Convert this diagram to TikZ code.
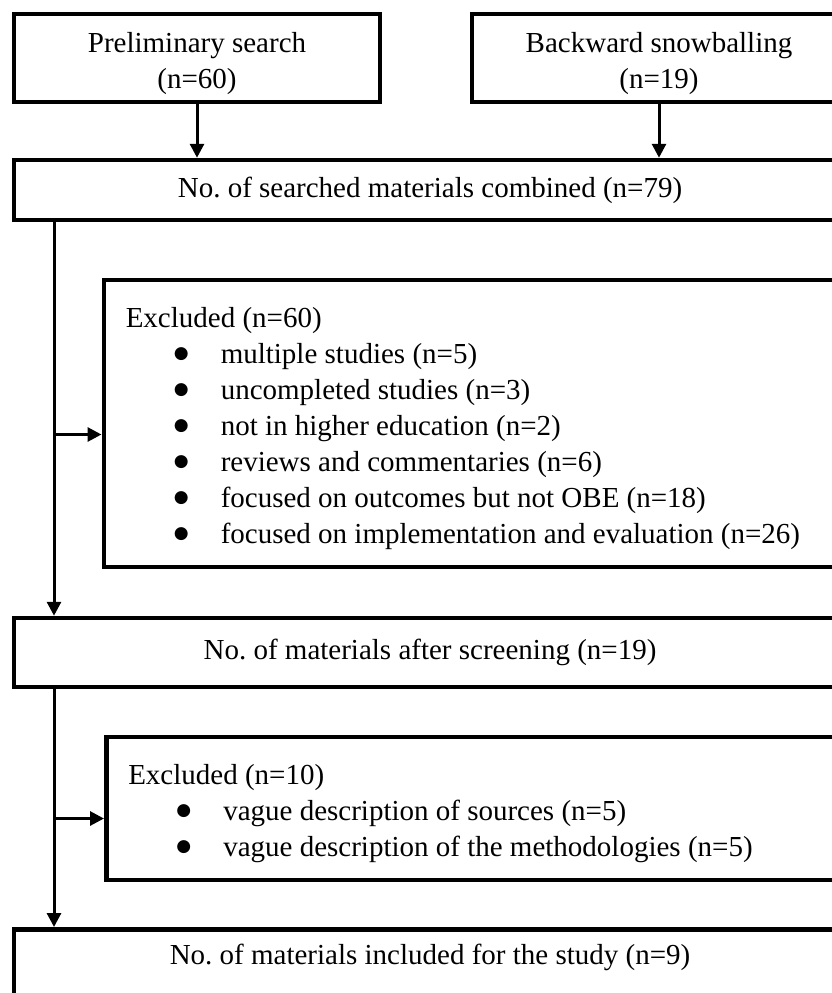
\documentclass[tikz,border=0pt]{standalone}
\usepackage{fontspec}
\setmainfont{Liberation Serif}
\newfontfamily\bulletfont{DejaVu Sans}
\usetikzlibrary{positioning,calc,arrows.meta}
\newcommand{\natspace}{\spaceskip=0pt\xspaceskip=0pt\relax}
\newcommand{\exclitem}[1]{\hspace*{48pt}\makebox[47pt][l]{\raisebox{5pt}{\bulletfont\fontsize{17}{17}\selectfont ●}}#1}

\begin{document}
\begin{tikzpicture}[x=1pt, y=1pt,
    font=\fontsize{29}{36}\selectfont,
    flowbox/.style={draw, line width=4.5pt, inner sep=0pt, align=center},
    listbox/.style={draw, line width=4.5pt, inner xsep=22pt, inner ysep=0pt,
                    align=left, text width=714pt, anchor=west},
    flowarrow/.style={line width=3pt, -{Triangle[length=14pt, width=14pt]}}]
  \useasboundingbox (0,0) rectangle (832,-993);
  \clip (0,0) rectangle (832,-993);

  % Sources
  \node[flowbox, minimum width=366, minimum height=88] (prelim) at (197,-58) {\rule{0pt}{31pt}Preliminary search\\(n=60)};
  \node[flowbox, minimum width=374, minimum height=88] (snow) at (659,-58) {\rule{0pt}{31pt}Backward snowballing\\(n=19)};

  % Main column
  \node[flowbox, minimum width=832, minimum height=60] (combined) at (430,-190) {No.\ of searched materials combined (n=79)};
  \node[flowbox, minimum width=832, minimum height=69] (screen) at (430,-652.5) {No.\ of materials after screening (n=19)};
  \node[flowbox, minimum width=832, minimum height=80, anchor=north] (final) at (430,-927) {};
  \node (finaltext) at ([yshift=-30]final.north) {No.\ of materials included for the study (n=9)};

  % Exclusions
  \node[listbox, minimum height=287] (excl1) at (101.5,-423.5) {\natspace\rule{0pt}{30pt}Excluded (n=60)\\
    \exclitem{multiple studies (n=5)}\\
    \exclitem{uncompleted studies (n=3)}\\
    \exclitem{not in higher education (n=2)}\\
    \exclitem{reviews and commentaries (n=6)}\\
    \exclitem{focused on outcomes but not OBE (n=18)}\\
    \exclitem{focused on implementation and evaluation (n=26)}};
  \node[listbox, minimum height=143] (excl2) at (104,-808.5) {\natspace\rule{0pt}{30pt}Excluded (n=10)\\
    \exclitem{vague description of sources (n=5)}\\
    \exclitem{vague description of the methodologies (n=5)}};

  % Connectors
  \coordinate (trunk) at (54,0);
  \draw[flowarrow] (prelim.south) -- (prelim.south |- combined.north);
  \draw[flowarrow] (snow.south) -- (snow.south |- combined.north);
  \draw[flowarrow] (trunk |- combined.south) -- (trunk |- screen.north);
  \draw[flowarrow] ($(trunk |- excl1.west)+(0,-11)$) -- ($(excl1.west)+(0,-11)$);
  \draw[flowarrow] (trunk |- screen.south) -- (trunk |- final.north);
  \draw[flowarrow] ($(trunk |- excl2.west)+(0,-10)$) -- ($(excl2.west)+(0,-10)$);
\end{tikzpicture}
\end{document}
